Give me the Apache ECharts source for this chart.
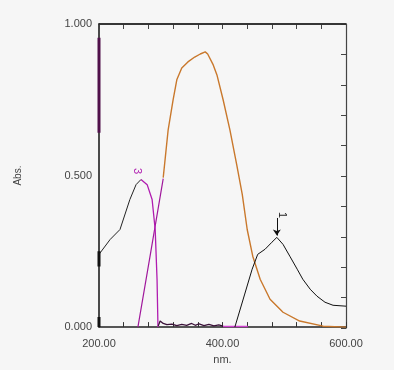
<!DOCTYPE html>
<html>
<head>
<meta charset="utf-8">
<script src="https://cdn.jsdelivr.net/npm/echarts@6/dist/echarts.min.js"></script>
<style>
  html, body { margin: 0; padding: 0; background: #f6f6f6; }
  #chart { width: 394px; height: 370px; }
</style>
</head>
<body>
<div id="chart"></div>
<script>
// 读数 (nm, Abs.)
const yTickLabels = [0, 0.5, 1];
const xTickLabels = [200, 400, 600];

// 曲线 1 (黑色)
const curve1 = [
  [420, 0], [436, 0.109], [448, 0.191], [457, 0.240], [469, 0.257], [480, 0.280],
  [488, 0.296], [498, 0.273], [509, 0.234], [521, 0.191], [530, 0.158], [542, 0.125],
  [553, 0.102], [566, 0.082], [579, 0.072], [600, 0.069]
];
// 曲线 2 (橙色)
const curve2 = [
  [304, 0.493], [312, 0.651], [320, 0.750], [326, 0.816], [334, 0.855], [344, 0.875],
  [355, 0.891], [364, 0.901], [372, 0.908], [376, 0.901], [385, 0.865], [391, 0.832],
  [401, 0.750], [412, 0.651], [423, 0.536], [432, 0.438], [440, 0.322], [449, 0.234],
  [461, 0.158], [477, 0.092], [498, 0.049], [525, 0.020], [563, 0.003], [600, 0]
];
// 曲线 2 上升段 (紫红)
const curve2Rise = [[263, 0], [284, 0.25], [304, 0.490]];
// 曲线 3 左段 (黑色)
const curve3Left = [
  [200, 0.240], [218, 0.289], [234, 0.322], [250, 0.421], [260, 0.470], [268, 0.487]
];
// 曲线 3 右段 (紫红)
const curve3Right = [
  [268, 0.487], [278, 0.470], [286, 0.421], [291, 0.322], [294, 0.158], [295.5, 0]
];
// 基线噪声
const baseline = [
  [296, 0.004], [299, 0.020], [304, 0.012], [310, 0.008], [318, 0.010], [326, 0.005],
  [334, 0.009], [342, 0.006], [350, 0.012], [356, 0.006], [362, 0.011], [370, 0.005],
  [378, 0.009], [386, 0.004], [394, 0.007], [401, 0.003]
];
const baselineTail = [[401, 0.002], [441, 0.002]];
// 左轴上的残段
const edgePurple = [[200, 0.955], [200, 0.641]];
const edgeBlack = [[200, 0.250], [200, 0.200]];
const edgeBottom = [[200, 0.033], [200, 0]];

const FONT = 'Liberation Sans, Arial, sans-serif';

const chart = echarts.init(document.getElementById('chart'));

const lineSeries = (data, color, width, extra) => Object.assign({
  type: 'line',
  data: data,
  showSymbol: false,
  symbol: 'none',
  lineStyle: { color: color, width: width },
  z: 3
}, extra || {});

const gridBox = { left: 99, right: 48, top: 24, bottom: 42 };

const option = {
  animation: false,
  // grid 0: 曲线; grid 1: 只画右侧刻度
  grid: [Object.assign({}, gridBox), Object.assign({}, gridBox)],
  xAxis: [{
    type: 'value',
    gridIndex: 0,
    min: 200, max: 600, interval: 40,
    name: 'nm.',
    nameLocation: 'middle',
    nameGap: 26,
    nameTextStyle: { color: '#444', fontSize: 11, fontFamily: FONT },
    axisLine: { show: true, onZero: false, lineStyle: { color: '#222', width: 1.5 } },
    axisTick: { show: true, inside: true, length: 5, lineStyle: { color: '#333' } },
    axisLabel: {
      color: '#444', fontSize: 11, margin: 11, fontFamily: FONT,
      formatter: v => xTickLabels.includes(v) ? v.toFixed(2) : ''
    },
    splitLine: { show: false }
  }, {
    type: 'value',
    gridIndex: 0,
    position: 'top',
    min: 200, max: 600, interval: 40,
    axisLine: { show: true, onZero: false, lineStyle: { color: '#2a2a2a', width: 1.5 } },
    axisTick: { show: true, inside: true, length: 5, lineStyle: { color: '#444' } },
    axisLabel: { show: true, color: 'rgba(0,0,0,0)', fontSize: 8 },
    splitLine: { show: false }
  }, {
    type: 'value',
    gridIndex: 1,
    min: 200, max: 600,
    show: false
  }],
  yAxis: [{
    type: 'value',
    gridIndex: 0,
    min: 0, max: 1, interval: 0.1,
    name: 'Abs.',
    nameLocation: 'middle',
    nameGap: 76,
    nameRotate: 90,
    nameTextStyle: { color: '#444', fontSize: 10, fontFamily: FONT },
    axisLine: { show: true, onZero: false, lineStyle: { color: '#111', width: 1.5 } },
    axisTick: { show: false },
    axisLabel: {
      color: '#444', fontSize: 11, margin: 7, fontFamily: FONT,
      formatter: v => yTickLabels.some(t => Math.abs(t - v) < 1e-6) ? v.toFixed(3) : ''
    },
    splitLine: { show: false }
  }, {
    type: 'value',
    gridIndex: 1,
    position: 'right',
    min: 0, max: 1, interval: 0.1,
    axisLine: { show: true, onZero: false, lineStyle: { color: '#444', width: 1.2 } },
    axisTick: { show: true, inside: true, length: 5, lineStyle: { color: '#444' } },
    axisLabel: { show: false },
    splitLine: { show: false }
  }],
  series: [
    lineSeries(curve2, '#c9782c', 1.4, {
      // 顶边备用: Abs. = 1 处的水平线
      markLine: {
        silent: true,
        symbol: 'none',
        label: { show: false },
        lineStyle: { color: '#2a2a2a', width: 1.5, type: 'solid' },
        data: [{ yAxis: 1 }]
      }
    }),
    lineSeries(curve2Rise, '#a0189c', 1.2),
    lineSeries(curve3Left, '#222', 1, {
      markPoint: {
        symbol: 'circle', symbolSize: 1,
        itemStyle: { color: 'transparent' },
        data: [{
          coord: [261, 0.515],
          label: { show: true, formatter: '3', color: '#b020b0', fontSize: 11, rotate: -90, fontFamily: FONT }
        }]
      }
    }),
    lineSeries(curve3Right, '#b01cb0', 1.3),
    lineSeries(baseline, '#3a1038', 1.3),
    lineSeries(baselineTail, '#d040d0', 1.3),
    lineSeries(edgePurple, '#50104a', 3),
    lineSeries(edgeBlack, '#111', 3),
    lineSeries(edgeBottom, '#111', 3),
    lineSeries(curve1, '#111', 1, {
      markLine: {
        silent: true,
        symbol: ['none', 'arrow'],
        symbolSize: 6,
        lineStyle: { color: '#111', width: 1, type: 'solid' },
        label: { show: true, position: 'start', formatter: '1', color: '#222', fontSize: 11, distance: 3, rotate: -90, fontFamily: FONT },
        data: [[{ coord: [488, 0.36] }, { coord: [488, 0.302] }]]
      }
    })
  ]
};

chart.setOption(option);
window.addEventListener('resize', () => chart.resize());
</script>
</body>
</html>
